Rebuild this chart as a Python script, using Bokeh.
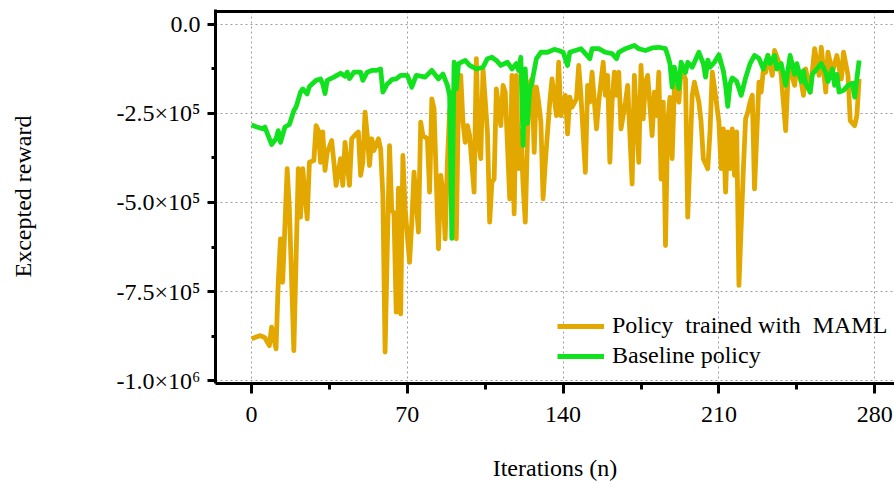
from bokeh.plotting import figure
from bokeh.models import Range1d, FixedTicker, Legend, LegendItem, Span
from bokeh.embed import file_html
from bokeh.resources import INLINE

# ---- data (rewards in units of 1e5) ----
maml_iter = [0, 2, 4, 6, 8, 9, 11, 12, 13, 14, 16, 17, 19, 21, 22, 23, 25, 26, 28, 29,
             30, 31, 32, 33, 34, 36, 37, 38, 40, 41, 42, 44, 45, 47, 48, 49, 50, 51, 52, 53,
             54, 55, 57, 58, 59, 60, 62, 63, 64, 65, 66, 67, 68, 69, 71, 72, 73, 75, 76, 77,
             79, 80, 81, 82, 84, 85, 86, 87, 88, 89, 91, 92, 93, 94, 95, 96, 97, 98, 100, 101,
             102, 103, 104, 106, 107, 108, 109, 110, 112, 113, 114, 116, 117, 118, 119, 120, 121, 122, 123, 124,
             125, 126, 127, 128, 129, 130, 131, 132, 134, 135, 137, 138, 139, 141, 142, 143, 144, 146, 147, 148,
             150, 151, 152, 153, 155, 156, 158, 159, 160, 161, 162, 163, 164, 165, 166, 168, 169, 171, 172, 173,
             174, 175, 176, 177, 178, 180, 181, 182, 183, 184, 185, 186, 187, 188, 189, 190, 192, 193, 195, 196,
             198, 199, 201, 202, 203, 205, 206, 207, 208, 210, 211, 212, 213, 214, 215, 216, 217, 218, 219, 221,
             222, 223, 224, 225, 226, 228, 229, 230, 231, 232, 234, 235, 237, 238, 240, 241, 242, 244, 245, 247,
             248, 249, 251, 253, 255, 256, 258, 259, 261, 263, 265, 266, 268, 269, 271, 272, 273]
maml_reward = [-8.83, -8.78, -8.74, -8.80, -9.02, -8.50, -9.11, -7.24, -6.02, -7.24, -4.05, -5.18, -9.16, -4.05, -5.41, -4.05, -5.46, -3.87, -3.82, -2.84,
               -2.98, -3.87, -3.02, -4.10, -3.59, -3.26, -3.87, -4.52, -3.77, -4.52, -3.31, -4.52, -3.21, -3.07, -3.02, -4.24, -3.87, -2.46, -3.12, -3.96,
               -3.21, -3.54, -3.21, -3.49, -4.80, -9.20, -3.40, -5.22, -5.30, -8.08, -4.60, -8.13, -3.68, -5.18, -6.68, -5.55, -4.15, -5.83, -2.74, -3.12,
               -3.21, -4.71, -2.09, -2.37, -6.30, -4.24, -4.71, -6.02, -3.87, -2.42, -1.81, -6.02, -1.99, -1.43, -2.74, -3.31, -2.84, -3.12, -4.71, -0.96,
               -3.31, -3.77, -1.25, -3.02, -5.55, -4.43, -4.34, -1.81, -2.84, -1.71, -1.90, -4.90, -1.43, -5.32, -1.43, -4.05, -2.98, -4.50, -5.55, -3.12,
               -1.62, -1.53, -3.59, -1.76, -2.18, -2.74, -4.90, -3.87, -2.18, -1.53, -2.56, -1.06, -2.56, -1.99, -3.07, -2.04, -2.32, -2.09, -1.15, -1.99,
               -4.15, -1.71, -2.18, -1.34, -2.93, -2.18, -1.06, -1.99, -1.43, -3.87, -2.18, -1.34, -1.99, -1.34, -2.93, -2.18, -1.71, -4.48, -1.43, -2.65,
               -3.87, -1.15, -2.65, -1.62, -1.43, -3.12, -1.90, -2.56, -1.34, -4.34, -2.18, -6.21, -2.74, -2.05, -3.77, -1.71, -2.18, -1.25, -1.53, -5.41,
               -1.99, -1.62, -2.18, -2.74, -3.77, -4.05, -3.02, -1.34, -1.76, -2.74, -4.05, -2.93, -4.71, -3.02, -4.05, -2.93, -4.24, -3.02, -7.33, -4.05,
               -2.65, -2.46, -2.18, -1.99, -4.62, -1.62, -1.90, -1.25, -1.34, -0.87, -1.43, -0.73, -1.06, -1.43, -2.98, -1.53, -1.25, -1.71, -1.15, -1.62,
               -1.99, -1.25, -1.90, -0.68, -1.43, -0.64, -1.90, -0.78, -1.34, -0.87, -1.53, -0.78, -1.43, -2.70, -2.84, -2.56, -1.53]

base_iter = [0, 2, 5, 6, 9, 11, 12, 13, 15, 17, 19, 20, 22, 23, 25, 26, 29, 31, 32, 33,
             34, 37, 40, 42, 43, 44, 46, 49, 50, 52, 54, 56, 58, 59, 61, 62, 63, 65, 67, 70,
             72, 74, 76, 78, 81, 84, 86, 88, 89, 90, 91, 92, 93, 96, 98, 101, 104, 106, 108, 110,
             112, 115, 117, 119, 120, 121, 122, 123, 124, 125, 126, 128, 130, 133, 136, 138, 140, 142, 143, 148,
             150, 152, 153, 156, 159, 162, 164, 165, 168, 172, 174, 177, 180, 183, 186, 187, 188, 189, 190, 191,
             192, 193, 195, 196, 198, 201, 203, 204, 205, 206, 208, 210, 212, 213, 214, 215, 216, 218, 220, 222,
             224, 226, 228, 230, 232, 233, 235, 236, 238, 240, 242, 244, 245, 247, 248, 249, 251, 252, 254, 256,
             258, 259, 261, 262, 263, 264, 266, 268, 270, 271, 273]
base_reward = [-2.82, -2.87, -2.93, -2.88, -3.37, -3.21, -2.98, -3.31, -2.88, -2.81, -2.42, -2.32, -1.90, -1.81, -1.95, -1.74, -1.57, -1.53, -1.67, -1.94,
               -1.57, -1.48, -1.37, -1.45, -1.34, -1.52, -1.34, -1.34, -1.57, -1.34, -1.29, -1.29, -1.25, -1.90, -1.67, -1.62, -1.55, -1.53, -1.43, -1.43,
               -1.76, -1.43, -1.45, -1.48, -1.29, -1.53, -1.39, -1.71, -2.00, -6.01, -1.06, -1.81, -1.10, -1.01, -1.15, -1.25, -1.20, -0.96, -0.92, -1.01,
               -1.15, -1.06, -1.25, -1.10, -1.29, -0.92, -3.40, -1.25, -2.78, -1.81, -1.62, -0.96, -0.78, -0.78, -0.70, -0.73, -0.78, -1.15, -0.78, -0.68,
               -0.82, -0.96, -0.68, -0.68, -0.78, -0.82, -0.96, -0.78, -0.68, -0.59, -0.68, -0.73, -0.66, -0.64, -0.68, -0.87, -1.10, -1.76, -1.20, -1.50,
               -1.80, -1.06, -1.35, -1.06, -1.20, -0.78, -1.10, -1.48, -1.00, -1.20, -1.06, -0.85, -1.30, -1.71, -2.30, -1.67, -1.50, -1.60, -1.99, -1.50,
               -1.10, -0.87, -0.95, -1.25, -0.87, -1.10, -0.87, -1.25, -1.10, -1.71, -0.87, -1.40, -1.10, -1.60, -1.30, -1.67, -1.90, -1.40, -1.25, -1.10,
               -1.35, -1.60, -1.25, -1.71, -1.40, -1.90, -1.85, -1.71, -1.65, -2.04, -1.01]

reward_unit = 1e5
x_ticks = [0, 70, 140, 210, 280]
x_minor_ticks = [35, 105, 175, 245]
y_ticks = [0, -250000, -500000, -750000, -1000000]
y_tick_labels = ["0.0", "-2.5×10⁵", "-5.0×10⁵", "-7.5×10⁵", "-1.0×10⁶"]
y_minor_ticks = [-125000, -375000, -625000, -875000]
series_names = ["Policy  trained with  MAML", "Baseline policy"]

FONT = "Liberation Serif"
Y_TOP = 36500

p = figure(width=894, height=489, output_backend="svg", toolbar_location=None, title=None,
           x_range=Range1d(-16.2, 288.9), y_range=Range1d(-1008400, 42100),
           min_border_left=215, min_border_right=0, min_border_top=9, min_border_bottom=106,
           background_fill_color="white", border_fill_color="white")
p.outline_line_color = None

r1 = p.line(maml_iter, [v * reward_unit for v in maml_reward], line_color="#E3A800",
            line_width=4.8, line_join="round")
r2 = p.line(base_iter, [v * reward_unit for v in base_reward], line_color="#12E11E",
            line_width=4.8, line_join="round")

# grid
for g in (p.xgrid, p.ygrid):
    g.grid_line_color = "#9c9c9c"
    g.grid_line_dash = "2 3"
    g.grid_line_width = 1

# axes
p.xaxis.ticker = FixedTicker(ticks=x_ticks, minor_ticks=x_minor_ticks)
p.yaxis.ticker = FixedTicker(ticks=y_ticks, minor_ticks=y_minor_ticks)
p.yaxis.major_label_overrides = {t: lab for t, lab in zip(y_ticks, y_tick_labels)}

for ax in (p.xaxis[0], p.yaxis[0]):
    ax.axis_line_width = 3
    ax.axis_line_color = "black"
    ax.major_tick_line_width = 3
    ax.minor_tick_line_width = 3
    ax.major_tick_in = 0
    ax.minor_tick_in = 0
    ax.major_label_text_font = FONT
    ax.major_label_text_font_size = "24px"
    ax.major_label_text_font_style = "normal"
    ax.major_label_text_color = "black"
    ax.axis_label_text_font = FONT
    ax.axis_label_text_font_size = "24px"
    ax.axis_label_text_font_style = "normal"
    ax.axis_label_text_color = "black"

p.xaxis.major_tick_out = 10
p.xaxis.minor_tick_out = 6
p.xaxis.major_label_standoff = 13
p.xaxis.axis_label = "Iterations (n)"
p.xaxis.axis_label_standoff = 30

p.yaxis.major_tick_out = 8
p.yaxis.minor_tick_out = 4
p.yaxis.major_label_standoff = 7
p.yaxis.axis_label = "Excepted reward"
p.yaxis.axis_label_standoff = 78

# top border line of the frame
p.add_layout(Span(location=Y_TOP, dimension="width", line_color="black", line_width=3))

legend = Legend(items=[LegendItem(label=series_names[0], renderers=[r1]),
                       LegendItem(label=series_names[1], renderers=[r2])],
                location=(342, 14), label_text_font=FONT, label_text_font_size="24px",
                label_standoff=8, glyph_width=47, glyph_height=26, label_height=26,
                spacing=3, padding=0, margin=0, border_line_color=None,
                background_fill_alpha=0, label_text_color="black")
p.add_layout(legend)

open("out.html", "w").write(file_html(p, INLINE))
